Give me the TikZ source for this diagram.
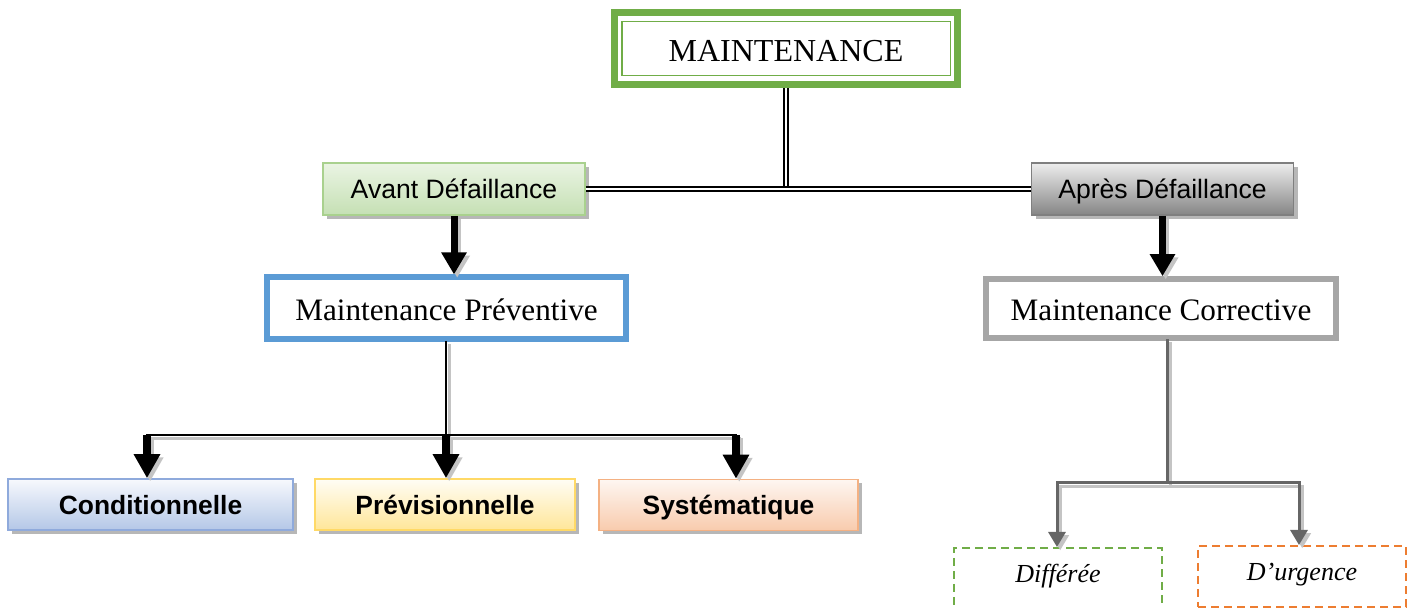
\documentclass[tikz,border=0pt]{standalone}
\usepackage{fontspec}
\setmainfont{Liberation Serif}
\setsansfont{Liberation Sans}
\usetikzlibrary{arrows.meta,shadows}

\definecolor{mgreen}{HTML}{70AD47}
\definecolor{avtop}{HTML}{EAF4E3}
\definecolor{avbot}{HTML}{C5E0B4}
\definecolor{avline}{HTML}{A9D18E}
\definecolor{aptop}{HTML}{EDEDED}
\definecolor{apbot}{HTML}{858585}
\definecolor{apline}{HTML}{7F7F7F}
\definecolor{pblue}{HTML}{5B9BD5}
\definecolor{cgray}{HTML}{A6A6A6}
\definecolor{cotop}{HTML}{F7F9FD}
\definecolor{cobot}{HTML}{B4C7E7}
\definecolor{coline}{HTML}{8FAADC}
\definecolor{pvtop}{HTML}{FFFDF5}
\definecolor{pvbot}{HTML}{FFE699}
\definecolor{pvline}{HTML}{FFD966}
\definecolor{sytop}{HTML}{FEF6F1}
\definecolor{sybot}{HTML}{F8CBAD}
\definecolor{syline}{HTML}{F4B183}
\definecolor{orangeline}{HTML}{ED7D31}
\definecolor{linkgray}{HTML}{666666}
\definecolor{shadegray}{HTML}{C4C4C4}

\tikzset{
  mainbox/.style={draw=mgreen, line width=3.5pt, fill=white, inner sep=0pt,
    minimum width=171.5pt, minimum height=36pt, text height=12.5pt, text depth=0pt,
    font=\fontsize{16}{19}\selectfont},
  gradbox/.style={draw, line width=0.8pt, inner sep=0pt,
    text height=11.3pt, text depth=1.5pt,
    drop shadow={shadow xshift=2pt, shadow yshift=-2pt, fill=black!40, opacity=0.7}},
  levelbox/.style={gradbox, minimum width=131pt, minimum height=26pt,
    font=\sffamily\fontsize{13.3}{16}\selectfont},
  typebox/.style={draw, fill=white, inner sep=0pt, line width=3pt,
    text height=14pt, text depth=2pt,
    minimum height=31pt, font=\fontsize{15.6}{19}\selectfont},
  leafbox/.style={gradbox, minimum height=25.5pt,
    font=\sffamily\bfseries\fontsize{13.2}{16}\selectfont},
  dashbox/.style={draw, line width=1pt, dash pattern=on 4pt off 2.5pt,
    inner sep=0pt, anchor=north, font=\itshape\fontsize{13}{16}\selectfont},
  dbl/.style={draw=black, line width=0.8pt, double=white, double distance=1.3pt},
  bigarrow/.style={line width=3.5pt, -{Triangle[length=11pt,width=12pt]}},
  trunk/.style={line width=1.4pt, line cap=rect},
  droparrow/.style={line width=4pt, -{Triangle[length=12pt,width=12.5pt]}},
  graytrunk/.style={line width=1.5pt, line cap=rect},
  grayarrow/.style={line width=1.5pt, -{Triangle[length=7.5pt,width=8.5pt]}},
  linkshadow/.style={shadegray, transform canvas={shift={(1.6pt,-1.6pt)}}},
}

\begin{document}
\begin{tikzpicture}[x=0.5pt,y=-0.5pt]
\useasboundingbox (0,0) rectangle (1415,608);

% top of the tree
\node[mainbox] (main) at (786,49) {MAINTENANCE};
\draw[mgreen, line width=0.8pt]
  ([shift={(5.5pt,-6pt)}]main.north west) rectangle ([shift={(-5.25pt,6.5pt)}]main.south east);

% before / after failure
\node[levelbox, draw=avline, top color=avtop, bottom color=avbot] (avant) at (454,189) {Avant Défaillance};
\node[levelbox, draw=apline, top color=aptop, bottom color=apbot] (apres) at (1162.5,189) {Après Défaillance};

% kinds of maintenance
\node[typebox, draw=pblue, minimum width=179.5pt] (prev) at (446.5,308.5) {Maintenance Préventive};
\node[typebox, draw=cgray, line width=2.8pt, minimum width=175pt, minimum height=29.5pt] (corr) at (1161,308.5) {Maintenance Corrective};

% preventive branches
\node[leafbox, draw=coline, top color=cotop, bottom color=cobot, minimum width=142.5pt] (cond) at (150.5,504.5) {Conditionnelle};
\node[leafbox, draw=pvline, top color=pvtop, bottom color=pvbot, minimum width=130pt] (previ) at (445,504.5) {Prévisionnelle};
\node[leafbox, draw=syline, top color=sytop, bottom color=sybot, minimum width=129.5pt] (syst) at (728.5,505) {Systématique};

% corrective branches
\node[dashbox, draw=mgreen, minimum width=104pt, text height=17.5pt, text depth=16.5pt] (diff) at (1058,547) {Différée};
\node[dashbox, draw=orangeline, minimum width=104pt, text height=17.5pt, text depth=13pt] (urg) at (1302,545) {D’urgence};

% double links from the root
\draw[dbl] (main.south) -- (main.south |- avant.east);
\draw[dbl] (avant.east) -- (apres.west);

% junction points of the split connectors
\coordinate (pb) at (446,435);
\coordinate (b1) at (147,435);
\coordinate (b3) at (736,435);
\coordinate (ct) at (1167,340);
\coordinate (cb) at (1167,483);
\coordinate (c1) at (1057,483);
\coordinate (c2) at (1299,483);

% soft shadows under the connectors
\begin{scope}[linkshadow]
  \draw[bigarrow] (avant.south) -- (avant.south |- prev.north);
  \draw[bigarrow] (apres.south) -- (apres.south |- corr.north);
  \draw[trunk] (prev.south -| pb) -- (pb);
  \draw[trunk] (b1) -- (b3);
  \draw[droparrow] (b1) -- (b1 |- cond.north);
  \draw[droparrow] (pb) -- (pb |- previ.north);
  \draw[droparrow] (b3) -- (b3 |- syst.north);
  \draw[graytrunk] (corr.south -| ct) -- (cb);
  \draw[graytrunk] (c1) -- (c2);
  \draw[grayarrow] (c1) -- (c1 |- diff.north);
  \draw[grayarrow] (c2) -- (c2 |- urg.north);
\end{scope}

% heavy arrows
\draw[bigarrow] (avant.south) -- (avant.south |- prev.north);
\draw[bigarrow] (apres.south) -- (apres.south |- corr.north);

% preventive split
\draw[trunk] (prev.south -| pb) -- (pb);
\draw[trunk] (b1) -- (b3);
\draw[droparrow] (b1) -- (b1 |- cond.north);
\draw[droparrow] (pb) -- (pb |- previ.north);
\draw[droparrow] (b3) -- (b3 |- syst.north);

% corrective split
\draw[graytrunk, linkgray] (corr.south -| ct) -- (cb);
\draw[graytrunk, linkgray] (c1) -- (c2);
\draw[grayarrow, linkgray] (c1) -- (c1 |- diff.north);
\draw[grayarrow, linkgray] (c2) -- (c2 |- urg.north);
\end{tikzpicture}
\end{document}
